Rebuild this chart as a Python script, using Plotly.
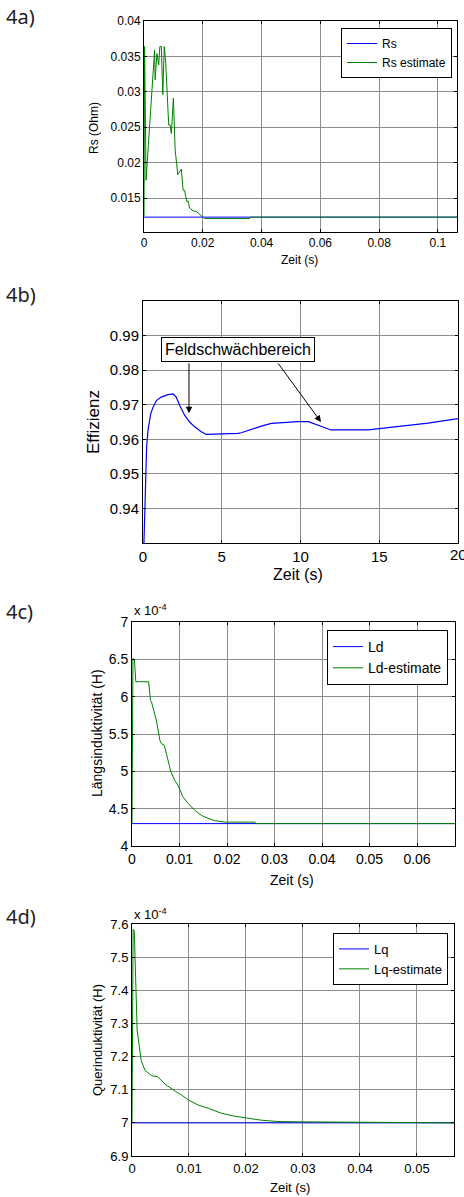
import plotly.graph_objects as go

W, H = 464, 1197
FONT = "Liberation Sans, Arial, sans-serif"
BLUE = "#0000ff"
GREEN = "#008000"

# ---- 4a) stator resistance ----
t_rs_ref = [0.0, 0.1065]
rs_ref = [0.0123, 0.0123]
t_rs = [0.0, 0.0002, 0.0007, 0.0036, 0.0038, 0.0044, 0.0050, 0.0054, 0.0059,
        0.0064, 0.0069, 0.0074, 0.0084, 0.0089, 0.0093, 0.0100, 0.0106, 0.0115,
        0.0118, 0.0127, 0.0133, 0.0138, 0.0142, 0.0146, 0.0150, 0.0155, 0.0167,
        0.0178, 0.0189, 0.0206, 0.0360, 0.0362, 0.1065]
rs_est = [0.0124, 0.0364, 0.0175, 0.0359, 0.0317, 0.0354, 0.0338, 0.0364, 0.0364,
          0.0296, 0.0364, 0.0340, 0.0253, 0.0253, 0.0241, 0.0291, 0.0218, 0.0183,
          0.0185, 0.0191, 0.0161, 0.0161, 0.0152, 0.0145, 0.0146, 0.0136, 0.0132,
          0.0131, 0.0127, 0.0121, 0.0121, 0.0123, 0.0123]
rs_yticks = [0.015, 0.02, 0.025, 0.03, 0.035, 0.04]

# ---- 4b) efficiency ----
t_eff = [0.06, 0.15, 0.23, 0.32, 0.49, 0.64, 0.85, 1.16, 1.59, 1.92, 2.11, 2.33,
         2.65, 2.96, 3.28, 3.70, 4.02, 4.5, 5.2, 6.03, 6.24, 6.88, 7.51, 8.15,
         9.0, 9.84, 10.5, 10.92, 11.35, 11.94, 14.3, 14.94, 16.0, 18.1, 20.0]
eff = [0.930, 0.9455, 0.9579, 0.9627, 0.9674, 0.9693, 0.9712, 0.9722, 0.9729,
       0.9731, 0.9722, 0.9698, 0.9669, 0.9650, 0.9636, 0.9622, 0.9614, 0.9615,
       0.9615, 0.9617, 0.9619, 0.9629, 0.9638, 0.9646, 0.9649, 0.9651, 0.9651,
       0.9644, 0.9636, 0.9627, 0.9627, 0.9630, 0.9636, 0.9647, 0.9660]
eff_yticks = [0.94, 0.95, 0.96, 0.97, 0.98, 0.99]
eff_xticks = [0, 5, 10, 15, 20]

# ---- 4c) d-axis inductance (x 10^-4 H) ----
t_ld_ref = [0.0, 0.068]
ld_ref = [4.3, 4.3]
t_ld = [0.0, 0.0002, 0.0005, 0.0008, 0.0035, 0.0039, 0.0041, 0.0049, 0.0051,
        0.0059, 0.0062, 0.0068, 0.0074, 0.0082, 0.0090, 0.0097, 0.0107, 0.0118,
        0.0132, 0.0146, 0.0160, 0.0174, 0.0195, 0.0259, 0.0261, 0.068]
ld_est = [4.3, 6.51, 6.5, 6.2, 6.2, 5.95, 5.93, 5.72, 5.69, 5.41, 5.37, 5.35,
          5.19, 4.99, 4.88, 4.81, 4.66, 4.57, 4.48, 4.41, 4.37, 4.34, 4.32, 4.32,
          4.3, 4.3]

# ---- 4d) q-axis inductance (x 10^-4 H) ----
t_lq_ref = [0.0, 0.0565]
lq_ref = [7.0, 7.0]
t_lq = [0.0, 0.0002, 0.0004, 0.0007, 0.0009, 0.0013, 0.0016, 0.0023, 0.0035,
        0.0045, 0.0058, 0.0076, 0.0087, 0.0099, 0.0116, 0.0134, 0.0157, 0.0180,
        0.0204, 0.0227, 0.0256, 0.0300, 0.0565]
lq_est = [7.0, 7.584, 7.58, 7.41, 7.28, 7.229, 7.188, 7.158, 7.142, 7.139, 7.117,
          7.095, 7.084, 7.069, 7.054, 7.044, 7.029, 7.020, 7.013, 7.008, 7.004,
          7.003, 7.0]


def px(x):
    return x / W


def py(y):
    return 1 - y / H


fig = go.Figure()

fig.add_trace(go.Scatter(x=t_rs_ref, y=rs_ref, name="Rs", mode="lines",
                         line=dict(color=BLUE, width=1), xaxis="x", yaxis="y",
                         legend="legend"))
fig.add_trace(go.Scatter(x=t_rs, y=rs_est, name="Rs estimate", mode="lines",
                         line=dict(color=GREEN, width=1), xaxis="x", yaxis="y",
                         legend="legend"))
fig.add_trace(go.Scatter(x=t_eff, y=eff, name="Effizienz", mode="lines",
                         line=dict(color=BLUE, width=1.2), xaxis="x2", yaxis="y2",
                         showlegend=False))
fig.add_trace(go.Scatter(x=t_ld_ref, y=ld_ref, name="Ld", mode="lines",
                         line=dict(color=BLUE, width=1), xaxis="x3", yaxis="y3",
                         legend="legend2"))
fig.add_trace(go.Scatter(x=t_ld, y=ld_est, name="Ld-estimate", mode="lines",
                         line=dict(color=GREEN, width=1), xaxis="x3", yaxis="y3",
                         legend="legend2"))
fig.add_trace(go.Scatter(x=t_lq_ref, y=lq_ref, name="Lq", mode="lines",
                         line=dict(color=BLUE, width=1), xaxis="x4", yaxis="y4",
                         legend="legend3"))
fig.add_trace(go.Scatter(x=t_lq, y=lq_est, name="Lq-estimate", mode="lines",
                         line=dict(color=GREEN, width=1), xaxis="x4", yaxis="y4",
                         legend="legend3"))


def ax(domain, rng, dtick, size, anchor, tickvals=None):
    d = dict(domain=domain, range=rng, anchor=anchor, showgrid=True,
             gridcolor="#8c8c8c", gridwidth=1, zeroline=False, showline=True,
             linecolor="black", linewidth=1, mirror="ticks", ticks="inside",
             ticklen=3, tickcolor="black", automargin=False,
             tickfont=dict(family=FONT, size=size, color="black"))
    if tickvals is not None:
        d.update(tickmode="array", tickvals=tickvals)
    else:
        d.update(dtick=dtick, tick0=0)
    return d


layout = dict(
    width=W, height=H, margin=dict(l=0, r=0, t=0, b=0, autoexpand=False),
    paper_bgcolor="white", plot_bgcolor="white",
    xaxis=ax([px(144), px(457)], [0, 0.1065], 0.02, 12, "y"),
    yaxis=ax([py(232), py(21)], [0.0102, 0.04], None, 12, "x", rs_yticks),
    xaxis2=ax([px(143), px(458)], [0, 20], None, 15, "y2", eff_xticks),
    yaxis2=ax([py(543), py(301)], [0.93, 1.0], None, 15, "x2", eff_yticks),
    xaxis3=ax([px(132), px(455)], [0, 0.068], 0.01, 14, "y3"),
    yaxis3=ax([py(846), py(622)], [4, 7], 0.5, 14, "x3"),
    xaxis4=ax([px(132), px(454)], [0, 0.0565], 0.01, 13, "y4"),
    yaxis4=ax([py(1156), py(924)], [6.9, 7.6], 0.1, 13, "x4"),
)


def leg(x, y, size):
    return dict(x=px(x), y=py(y), xanchor="right", yanchor="top",
                bgcolor="white", bordercolor="black", borderwidth=1,
                font=dict(family=FONT, size=size, color="black"),
                tracegroupgap=0)


layout["legend"] = leg(452, 28, 12)
layout["legend2"] = leg(448, 630, 14)
layout["legend3"] = leg(448, 933, 13)

ann = []


def text(x, y, s, size, angle=0, color="black", family=FONT, xanchor="center"):
    ann.append(dict(x=px(x), y=py(y), xref="paper", yref="paper", text=s,
                    showarrow=False, textangle=angle, xanchor=xanchor,
                    yanchor="middle",
                    font=dict(family=family, size=size, color=color)))


# panel tags
for tag, y in [("4a)", 16), ("4b)", 294), ("4c)", 611), ("4d)", 916)]:
    text(4, y, tag, 20, color="#222", family="Noto Sans, sans-serif", xanchor="left")

# axis titles
text(299, 260, "Zeit (s)", 12)
text(94, 128, "Rs (Ohm)", 12, angle=-90)
text(298, 575, "Zeit (s)", 16)
text(93, 422, "Effizienz", 17, angle=-90)
text(292, 880, "Zeit (s)", 14)
text(97, 733, "Längsinduktivität (H)", 14, angle=-90)
text(290, 1187, "Zeit (s)", 13)
text(97, 1040, "Querinduktivität (H)", 13, angle=-90)

# last time label of 4b sits on the page edge and is cut by it
ann.append(dict(x=eff_xticks[-1], y=py(555), xref="x2", yref="paper",
                text=str(eff_xticks[-1]), showarrow=False, xanchor="center",
                yanchor="middle", font=dict(family=FONT, size=15, color="black")))

# scale exponents
text(132, 610, "x 10<sup>-4</sup>", 13, xanchor="left")
text(132, 914, "x 10<sup>-4</sup>", 13, xanchor="left")

# field-weakening callout
ann.append(dict(x=6.03, y=0.9859, xref="x2", yref="y2", text="Feldschwächbereich",
                showarrow=False, bordercolor="black", borderwidth=1, borderpad=3,
                bgcolor="white", font=dict(family=FONT, size=16, color="black")))
for hx, hy, tx, ty in [(2.92, 0.9675, 2.92, 0.9824), (11.3, 0.9650, 8.51, 0.9824)]:
    ann.append(dict(x=hx, y=hy, xref="x2", yref="y2", ax=tx, ay=ty,
                    axref="x2", ayref="y2", text="", showarrow=True,
                    arrowhead=2, arrowsize=1.3, arrowwidth=1, arrowcolor="black"))

layout["annotations"] = ann
fig.update_layout(**layout)
fig.write_html("out.html")
